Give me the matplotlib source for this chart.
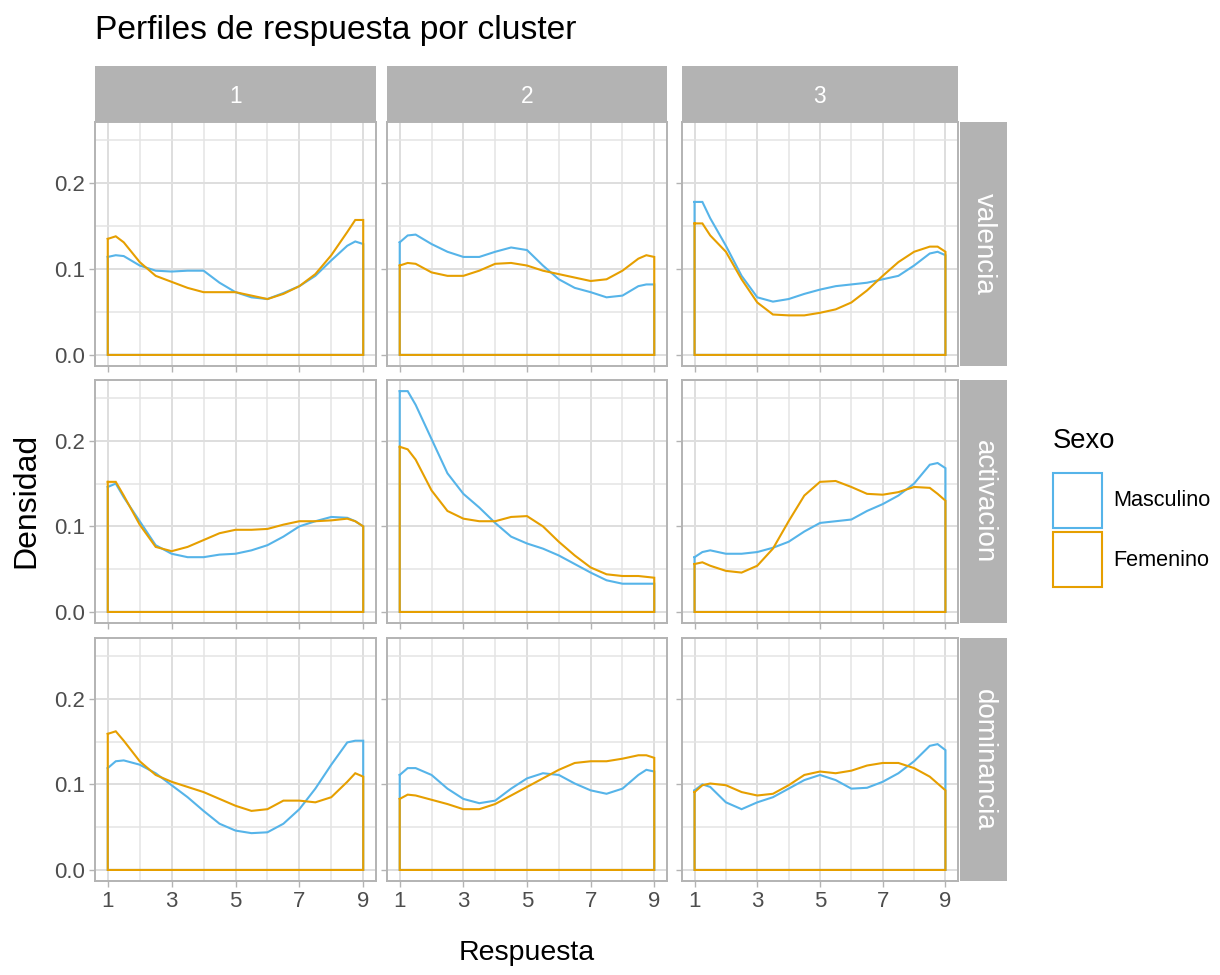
import matplotlib
matplotlib.use("Agg")
import matplotlib.pyplot as plt
from matplotlib.patches import Patch
from matplotlib import font_manager

# reference text is tall and narrow; use the narrow face when it is there
have_narrow = any(f.name == "Liberation Sans Narrow" for f in font_manager.fontManager.ttflist)
if have_narrow:
    NARROW = ["Liberation Sans Narrow", "Liberation Sans", "DejaVu Sans"]
    k = 1.0
else:
    NARROW = ["Liberation Sans", "DejaVu Sans"]
    k = 0.82
REG = ["Liberation Sans", "DejaVu Sans"]
plt.rcParams['font.family'] = REG

# evaluation points (Respuesta)
x_pts = [1, 1.25, 1.5, 2, 2.5, 3, 3.5, 4, 4.5, 5, 5.5, 6, 6.5, 7, 7.5, 8, 8.5, 8.75, 9]

clusters = ["1", "2", "3"]
dimensions = ["valencia", "activacion", "dominancia"]
sexes = ["Masculino", "Femenino"]

# densities, keyed by (dimension, cluster)
masc = {
    ("valencia", "1"):   [0.114, 0.116, 0.115, 0.104, 0.098, 0.097, 0.098, 0.098, 0.084, 0.073, 0.067, 0.065, 0.072, 0.080, 0.092, 0.110, 0.127, 0.132, 0.129],
    ("valencia", "2"):   [0.131, 0.139, 0.140, 0.129, 0.120, 0.114, 0.114, 0.120, 0.125, 0.122, 0.104, 0.088, 0.078, 0.073, 0.067, 0.069, 0.080, 0.082, 0.082],
    ("valencia", "3"):   [0.178, 0.178, 0.159, 0.127, 0.092, 0.067, 0.062, 0.065, 0.071, 0.076, 0.080, 0.082, 0.084, 0.088, 0.092, 0.104, 0.118, 0.120, 0.116],
    ("activacion", "1"): [0.146, 0.150, 0.134, 0.106, 0.078, 0.068, 0.064, 0.064, 0.067, 0.068, 0.072, 0.078, 0.088, 0.100, 0.106, 0.111, 0.110, 0.106, 0.100],
    ("activacion", "2"): [0.258, 0.258, 0.242, 0.202, 0.162, 0.138, 0.122, 0.104, 0.088, 0.080, 0.074, 0.066, 0.056, 0.046, 0.037, 0.033, 0.033, 0.033, 0.033],
    ("activacion", "3"): [0.064, 0.070, 0.072, 0.068, 0.068, 0.070, 0.075, 0.082, 0.094, 0.104, 0.106, 0.108, 0.118, 0.126, 0.136, 0.150, 0.172, 0.174, 0.168],
    ("dominancia", "1"): [0.119, 0.127, 0.128, 0.123, 0.113, 0.099, 0.085, 0.069, 0.054, 0.046, 0.043, 0.044, 0.054, 0.071, 0.095, 0.123, 0.149, 0.151, 0.151],
    ("dominancia", "2"): [0.111, 0.119, 0.119, 0.111, 0.095, 0.083, 0.078, 0.081, 0.095, 0.107, 0.113, 0.111, 0.101, 0.093, 0.089, 0.095, 0.111, 0.117, 0.115],
    ("dominancia", "3"): [0.093, 0.100, 0.097, 0.079, 0.071, 0.079, 0.085, 0.095, 0.105, 0.111, 0.105, 0.095, 0.096, 0.103, 0.113, 0.127, 0.145, 0.147, 0.140],
}
fem = {
    ("valencia", "1"):   [0.135, 0.138, 0.131, 0.108, 0.092, 0.085, 0.078, 0.073, 0.073, 0.073, 0.069, 0.065, 0.071, 0.080, 0.094, 0.116, 0.143, 0.157, 0.157],
    ("valencia", "2"):   [0.104, 0.107, 0.106, 0.096, 0.092, 0.092, 0.098, 0.106, 0.107, 0.104, 0.098, 0.094, 0.090, 0.086, 0.088, 0.098, 0.112, 0.116, 0.114],
    ("valencia", "3"):   [0.153, 0.153, 0.139, 0.120, 0.088, 0.061, 0.047, 0.046, 0.046, 0.049, 0.053, 0.061, 0.075, 0.092, 0.108, 0.120, 0.126, 0.126, 0.120],
    ("activacion", "1"): [0.152, 0.152, 0.136, 0.102, 0.076, 0.071, 0.076, 0.084, 0.092, 0.096, 0.096, 0.097, 0.102, 0.106, 0.106, 0.107, 0.109, 0.106, 0.100],
    ("activacion", "2"): [0.193, 0.190, 0.178, 0.142, 0.118, 0.109, 0.106, 0.106, 0.111, 0.112, 0.100, 0.082, 0.066, 0.052, 0.044, 0.042, 0.042, 0.041, 0.040],
    ("activacion", "3"): [0.056, 0.058, 0.054, 0.048, 0.046, 0.054, 0.074, 0.106, 0.136, 0.152, 0.153, 0.146, 0.138, 0.137, 0.140, 0.146, 0.145, 0.138, 0.130],
    ("dominancia", "1"): [0.159, 0.162, 0.151, 0.127, 0.111, 0.103, 0.097, 0.091, 0.083, 0.075, 0.069, 0.071, 0.081, 0.081, 0.079, 0.085, 0.103, 0.113, 0.109],
    ("dominancia", "2"): [0.083, 0.088, 0.087, 0.082, 0.077, 0.071, 0.071, 0.077, 0.087, 0.097, 0.107, 0.117, 0.125, 0.127, 0.127, 0.130, 0.134, 0.134, 0.131],
    ("dominancia", "3"): [0.091, 0.099, 0.101, 0.099, 0.091, 0.087, 0.089, 0.099, 0.111, 0.115, 0.113, 0.116, 0.122, 0.125, 0.125, 0.119, 0.109, 0.101, 0.093],
}

colors = {"Masculino": "#56B4E9", "Femenino": "#E69F00"}

W, H = 1220, 975
fig = plt.figure(figsize=(W / 100, H / 100), dpi=100)


def rect(l, t, r, b):
    return [l / W, 1 - b / H, (r - l) / W, (b - t) / H]


col_px = [(95, 376), (387, 667), (682, 958)]
row_px = [(122, 366), (380, 623), (638, 881)]
strip_top = (66, 122)
strip_right = (960, 1007)

text_col = "#4D4D4D"
for i, dim in enumerate(dimensions):
    for j, cl in enumerate(clusters):
        l, r = col_px[j]
        t, b = row_px[i]
        ax = fig.add_axes(rect(l, t, r, b))
        ax.set_xlim(0.6, 9.4)
        ax.set_ylim(-0.0129, 0.271)
        ax.set_xticks([1, 3, 5, 7, 9])
        ax.set_xticks([2, 4, 6, 8], minor=True)
        ax.set_yticks([0.0, 0.1, 0.2])
        ax.set_yticks([0.05, 0.15, 0.25], minor=True)
        ax.grid(which="major", color="#DEDEDE", lw=1.4)
        ax.grid(which="minor", color="#E4E4E4", lw=1.1)
        ax.set_axisbelow(True)
        for s in ax.spines.values():
            s.set_color("#B3B3B3")
            s.set_linewidth(1.4)
        ax.tick_params(which="minor", length=0)
        ax.tick_params(which="major", length=4, color="#B3B3B3", width=1.0,
                       labelcolor=text_col, pad=3)
        if j > 0:
            ax.tick_params(labelleft=False)
        if i < 2:
            ax.tick_params(labelbottom=False)
        ax.set_yticklabels(["0.0", "0.1", "0.2"])
        for lab in ax.get_xticklabels() + ax.get_yticklabels():
            lab.set_fontfamily(NARROW)
            lab.set_fontsize(19.5 * k)

        for sx, dens in (("Masculino", masc), ("Femenino", fem)):
            ys = dens[(dim, cl)]
            px = list(x_pts) + [x_pts[-1], x_pts[0], x_pts[0]]
            py = list(ys) + [0, 0, ys[0]]
            ax.plot(px, py, color=colors[sx], lw=1.5, solid_joinstyle="miter")

        # top strips
        if i == 0:
            sax = fig.add_axes(rect(l, strip_top[0], r, strip_top[1]))
            sax.set_facecolor("#B3B3B3")
            sax.set_xticks([]); sax.set_yticks([])
            for s in sax.spines.values():
                s.set_visible(False)
            sax.text(0.5, 0.45, cl, color="white", fontsize=20 * k, family=NARROW,
                     ha="center", va="center", transform=sax.transAxes)
        # right strips
        if j == 2:
            rax = fig.add_axes(rect(strip_right[0], t, strip_right[1], b))
            rax.set_facecolor("#B3B3B3")
            rax.set_xticks([]); rax.set_yticks([])
            for s in rax.spines.values():
                s.set_visible(False)
            rax.text(0.5, 0.5, dim, color="white", fontsize=20, rotation=-90,
                     ha="center", va="center", transform=rax.transAxes)

fig.text(95 / W, 1 - 30 / H, "Perfiles de respuesta por cluster", fontsize=29.5 * k,
         family=NARROW, ha="left", va="center", color="black")
fig.text(527 / W, 1 - 953 / H, "Respuesta", fontsize=25 * k, family=NARROW,
         ha="center", va="center")
fig.text(26 / W, 1 - 500 / H, "Densidad", fontsize=23, rotation=90,
         ha="center", va="center")

# legend: title as its own text, keys below it
fig.text(1053 / W, 1 - 441 / H, "Sexo", fontsize=24 * k, family=NARROW,
         ha="left", va="center")
handles = [Patch(facecolor="none", edgecolor=colors[s], lw=1.5) for s in sexes]
leg = fig.legend(handles, sexes, loc="upper left",
                 bbox_to_anchor=(1053 / W, 1 - 473 / H), frameon=False,
                 borderpad=0, borderaxespad=0,
                 prop={"family": NARROW, "size": 19 * k},
                 handlelength=2.25, handleheight=3.5, labelspacing=0.22,
                 handletextpad=0.55)

fig.savefig("out.png", dpi=100)
